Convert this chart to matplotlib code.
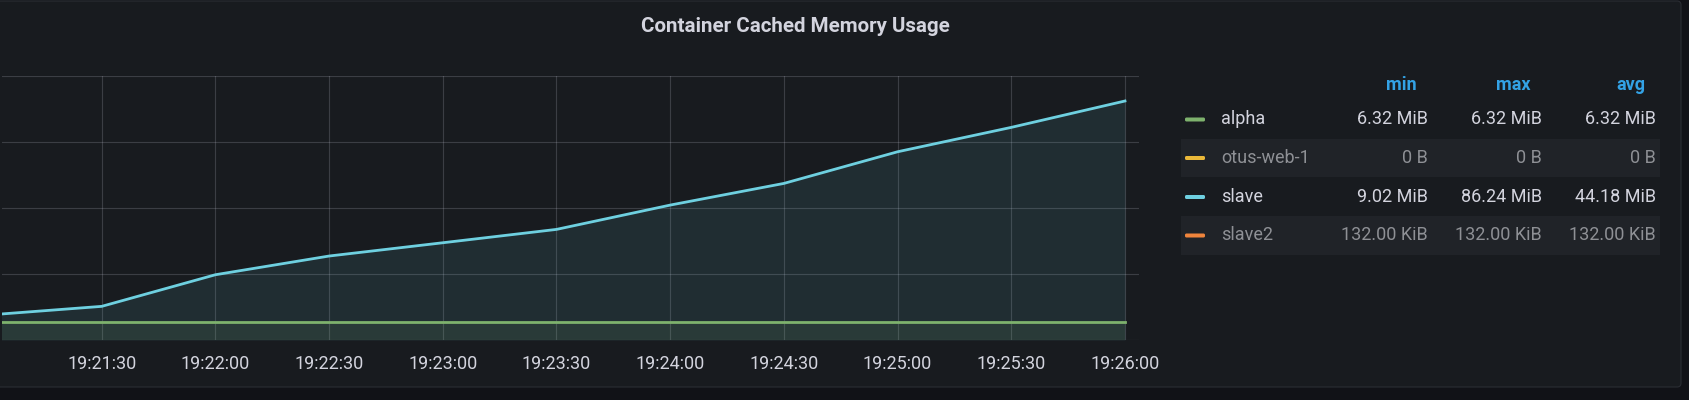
import numpy as np
import pandas as pd
import matplotlib
matplotlib.use('Agg')
import matplotlib.pyplot as plt
import matplotlib.dates as mdates
from matplotlib.patches import FancyBboxPatch, Rectangle

# Datos (MiB), muestras cada 30 s
times = ['19:21:00', '19:21:30', '19:22:00', '19:22:30', '19:23:00', '19:23:30',
         '19:24:00', '19:24:30', '19:25:00', '19:25:30', '19:26:00']
alpha_mib = [6.32, 6.32, 6.32, 6.32, 6.32, 6.32, 6.32, 6.32, 6.32, 6.32, 6.32]
slave_mib = [9.02, 12.14, 23.55, 30.30, 35.09, 39.91, 48.68, 56.50, 67.92, 76.72, 86.24]
tick_times = ['19:21:30', '19:22:00', '19:22:30', '19:23:00', '19:23:30',
              '19:24:00', '19:24:30', '19:25:00', '19:25:30', '19:26:00']

# Leyenda
series_names = ['alpha', 'otus-web-1', 'slave', 'slave2']
series_colors = ['#7EB26D', '#EAB839', '#6ED0E0', '#EF843C']
series_hidden = [False, True, False, True]
legend_min = ['6.32 MiB', '0 B', '9.02 MiB', '132.00 KiB']
legend_max = ['6.32 MiB', '0 B', '86.24 MiB', '132.00 KiB']
legend_avg = ['6.32 MiB', '0 B', '44.18 MiB', '132.00 KiB']
stat_headers = ['min', 'max', 'avg']

W, H = 1689, 400
PAGE_BG = '#111217'
PANEL_BG = '#181b1f'
TEXT = '#d3d4de'
DIM = '#8e9095'
FONT = ['Roboto', 'DejaVu Sans']

plt.rcParams['font.family'] = FONT

fig = plt.figure(figsize=(W / 100, H / 100), dpi=100, facecolor=PAGE_BG)

# Capa de fondo en coordenadas de pixel
bg = fig.add_axes([0, 0, 1, 1], zorder=0)
bg.set_xlim(0, W)
bg.set_ylim(H, 0)
bg.axis('off')
bg.add_patch(FancyBboxPatch((-20, 1), 1701, 386, boxstyle='round,pad=0,rounding_size=4',
                            facecolor=PANEL_BG, edgecolor='#2a2d33', linewidth=0.8))

bg.text(795, 27, 'Container Cached Memory Usage', ha='center', va='center',
        fontsize=14.8, fontweight='semibold', color=TEXT)

# Leyenda tipo tabla
col_right = [1428, 1542, 1656]
head_right = [1417, 1531, 1645]
for h, xr in zip(stat_headers, head_right):
    bg.text(xr, 85, h, ha='right', va='center', fontsize=13, fontweight='bold', color='#33a2e5')

row_y = [119.5, 158, 197, 235.5]
for i, name in enumerate(series_names):
    y = row_y[i]
    if i % 2 == 1:
        bg.add_patch(Rectangle((1181, y - 19.3), 479, 38.6, facecolor='#202328', edgecolor='none'))
    bg.add_patch(FancyBboxPatch((1185, y - 2), 20, 4, boxstyle='round,pad=0,rounding_size=1.5',
                                facecolor=series_colors[i], edgecolor='none'))
    c = DIM if series_hidden[i] else TEXT
    bg.text(1221, y, name, ha='left', va='center', fontsize=13, color=c)
    for vals, xr in zip([legend_min, legend_max, legend_avg], col_right):
        bg.text(xr, y, vals[i], ha='right', va='center', fontsize=13, color=c)

# Grafico
x = pd.to_datetime(['2024-01-01 ' + t for t in times])
ticks = pd.to_datetime(['2024-01-01 ' + t for t in tick_times])

left, right, top, bottom = 1.85, 1139, 75.7, 340
ax = fig.add_axes([left / W, 1 - bottom / H, (right - left) / W, (bottom - top) / H], zorder=1)
ax.set_facecolor('none')

ax.fill_between(x, slave_mib, color=series_colors[2], alpha=0.1, linewidth=0)
ax.fill_between(x, alpha_mib, color=series_colors[0], alpha=0.1, linewidth=0)
ax.plot(x, slave_mib, color=series_colors[2], linewidth=2.0)
ax.plot(x, alpha_mib, color=series_colors[0], linewidth=2.0)

step = 25e6 / 2**20  # 25 MB en MiB
ax.set_ylim(0, 4 * step)
ax.set_yticks([0, step, 2 * step, 3 * step, 4 * step])
ax.set_xlim(pd.Timestamp('2024-01-01 19:21:03.65'), pd.Timestamp('2024-01-01 19:26:03.7'))
ax.set_xticks(ticks)
ax.xaxis.set_major_formatter(mdates.DateFormatter('%H:%M:%S'))

ax.grid(True, color='#ccccdc', alpha=0.2, linewidth=0.8)
ax.set_axisbelow(True)
for s in ax.spines.values():
    s.set_visible(False)
ax.tick_params(axis='both', length=0)
ax.tick_params(axis='x', labelsize=13, labelcolor=TEXT, pad=11)
ax.tick_params(axis='y', labelleft=False)

plt.savefig('out.png', dpi=100, facecolor=PAGE_BG)
